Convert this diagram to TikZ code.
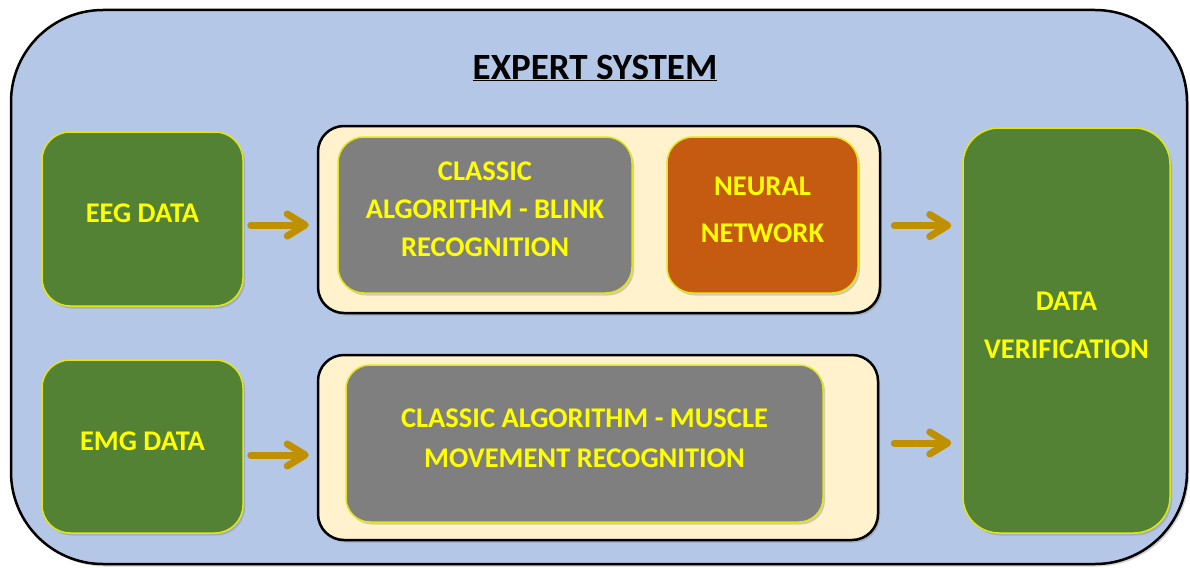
\documentclass[tikz,border=0pt]{standalone}
\usepackage{fontspec}
\setmainfont{Carlito}
\usetikzlibrary{arrows.meta, shadows}
\definecolor{skyback}{RGB}{180,199,231}
\definecolor{leafgreen}{RGB}{84,130,53}
\definecolor{slategray}{RGB}{127,127,127}
\definecolor{burntorange}{RGB}{197,90,17}
\definecolor{creamy}{RGB}{255,242,204}
\definecolor{darkgold}{RGB}{191,144,0}
\definecolor{lemon}{RGB}{255,255,0}
\definecolor{lemonline}{RGB}{225,230,20}

\begin{document}
\begin{tikzpicture}[x=1pt, y=-1pt, line cap=round, line join=round,
	softshadow/.style={drop shadow={opacity=0.35, shadow xshift=2pt, shadow yshift=-2.5pt}},
	outerbox/.style={draw=black, line width=2.5pt, fill=skyback, rounded corners=92pt, softshadow},
	holder/.style={draw=black, line width=2.5pt, fill=creamy, rounded corners=26pt, softshadow},
	block/.style={draw=lemonline, line width=1.5pt, rounded corners=28pt, text=lemon, align=center,
		font=\fontsize{28.5}{38}\selectfont\bfseries, inner sep=0pt, text depth=11pt, softshadow},
	greenblock/.style={block, fill=leafgreen},
	grayblock/.style={block, fill=slategray},
	orangeblock/.style={block, fill=burntorange},
	flowarrow/.style={draw=darkgold, line width=7pt,
		-{Straight Barb[length=18pt, width=22pt, line cap=round, line join=round]}}]
	\useasboundingbox (0,0) rectangle (1190,567);
	
	% outer frame and title
	\draw[outerbox] (11,10) rectangle (1187,564);
	\node[font=\fontsize{37}{40}\selectfont\bfseries] (heading) at (595,68) {\underline{EXPERT SYSTEM}};
	
	% input data
	\node[greenblock, minimum width=201pt, minimum height=174pt] (eeg) at (142.5,219) {EEG DATA};
	\node[greenblock, minimum width=201pt, minimum height=173pt] (emg) at (142.5,446.5) {EMG DATA};
	
	% processing blocks
	\node[holder, minimum width=562pt, minimum height=187pt] (upper) at (599,219.5) {};
	\node[grayblock, minimum width=294pt, minimum height=156pt, rounded corners=26pt] (blink) at (485,215) {CLASSIC\\ALGORITHM - BLINK\\RECOGNITION};
	\node[orangeblock, minimum width=191pt, minimum height=156pt, rounded corners=26pt] (neural) at (762.5,215) {NEURAL\\[9pt]NETWORK};
	\node[holder, minimum width=560pt, minimum height=185pt] (lower) at (598,447.5) {};
	\node[grayblock, minimum width=477pt, minimum height=157pt, rounded corners=24pt] (muscle) at (584.5,443.5) {CLASSIC ALGORITHM - MUSCLE\\[2pt]MOVEMENT RECOGNITION};
	
	% output
	\node[greenblock, minimum width=207pt, minimum height=405pt, rounded corners=36pt] (verif) at (1066.5,330.5) {DATA\\[10pt]VERIFICATION};
	
	% arrows
	\draw[flowarrow, shorten <=7pt, shorten >=8pt] ([yshift=-6pt]eeg.east) -- ([yshift=-6pt]eeg.east -| upper.west);
	\draw[flowarrow, shorten <=7pt, shorten >=8pt] ([yshift=-8.5pt]emg.east) -- ([yshift=-8.5pt]emg.east -| lower.west);
	\draw[flowarrow, shorten <=13pt, shorten >=11pt] ([yshift=-6pt]upper.east) -- ([yshift=-6pt]upper.east -| verif.west);
	\draw[flowarrow, shorten <=15pt, shorten >=11pt] ([yshift=4.5pt]lower.east) -- ([yshift=4.5pt]lower.east -| verif.west);
\end{tikzpicture}
\end{document}
